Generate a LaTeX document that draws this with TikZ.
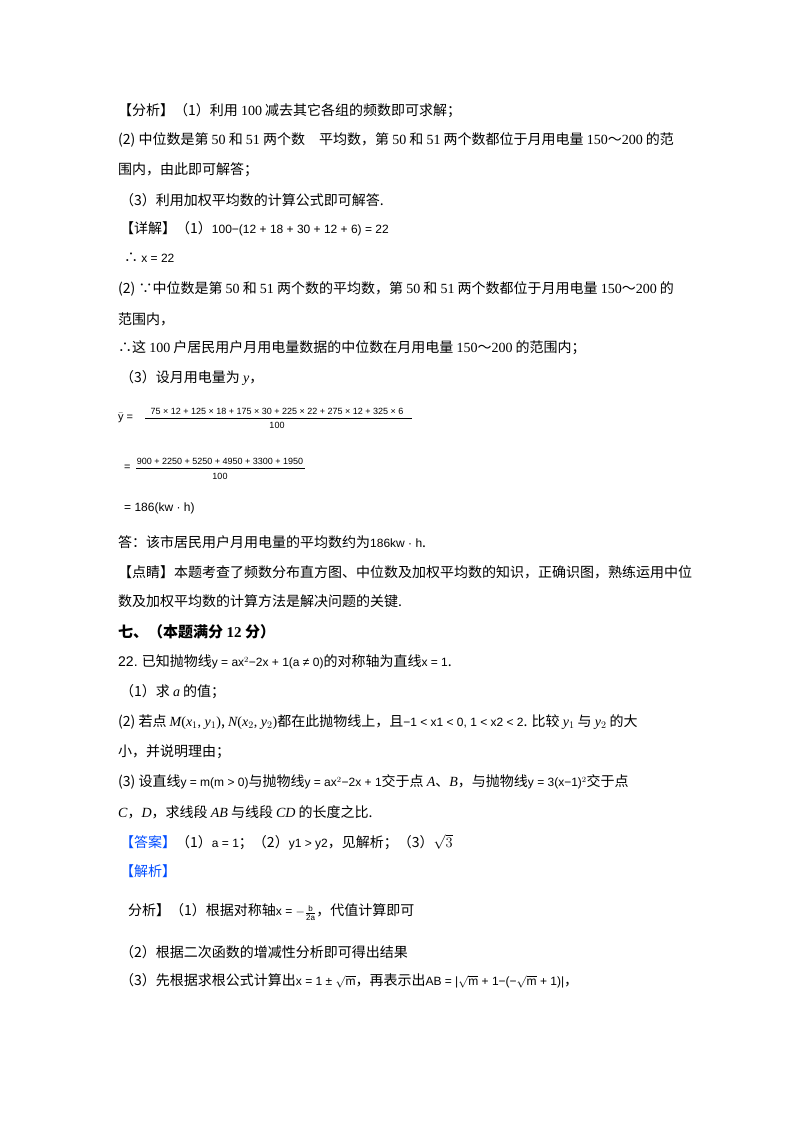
\documentclass[tikz,border=0pt]{standalone}
\usepackage{fontspec}
\usepackage{amsmath,amssymb}
\setmainfont{Liberation Serif}
\newfontfamily\cjk{Noto Sans CJK SC}
\newfontfamily\sm{Liberation Sans}
\newcommand{\mm}[1]{{\sm\fontsize{12}{14}\selectfont #1}}
\newcommand{\tl}{{\cjk ～}}
\begin{document}
\begin{tikzpicture}[x=1pt,y=-1pt,
  t/.style={anchor=west,inner sep=0pt,font=\fontsize{14}{16}\selectfont\cjk},
  s/.style={anchor=west,inner sep=0pt,font=\fontsize{9}{11}\selectfont\sm},
  blue/.style={text=blue!70!cyan}]
\useasboundingbox (0,0) rectangle (800,1132);
\node[t] (l1) at (118,111) {【分析】（1）利用 {\rmfamily 100} 减去其它各组的频数即可求解；};
\node[t] (l2) at (118,140) {(2) 中位数是第 {\rmfamily 50} 和 {\rmfamily 51} 两个数\quad 平均数，第 {\rmfamily 50} 和 {\rmfamily 51} 两个数都位于月用电量 {\rmfamily 150}\tl{\rmfamily 200} 的范};
\node[t] (l3) at (118,170) {围内，由此即可解答；};
\node[t] (l4) at (120,200) {（3）利用加权平均数的计算公式即可解答.};
\node[t] (l5) at (120,229) {【详解】（1）\mm{100−(12 + 18 + 30 + 12 + 6) = 22}};
\node[t] (l6) at (124,258) {∴ \mm{x = 22}};
\node[t] (l7) at (118,289) {(2) ∵中位数是第 {\rmfamily 50} 和 {\rmfamily 51} 两个数的平均数，第 {\rmfamily 50} 和 {\rmfamily 51} 两个数都位于月用电量 {\rmfamily 150}\tl{\rmfamily 200} 的};
\node[t] (l8) at (118,319) {范围内，};
\node[t] (l9) at (118,348) {∴这 {\rmfamily 100} 户居民用户月用电量数据的中位数在月用电量 {\rmfamily 150}\tl{\rmfamily 200} 的范围内；};
\node[t] (l10) at (120,378) {（3）设月用电量为 {\rmfamily\itshape y}，};
\node[s,font=\fontsize{11}{13}\selectfont\sm] (f1) at (118,418) {$\bar{\text{y}}$ =};
\node[s,anchor=center] (f1n) at (277,411) {75 × 12 + 125 × 18 + 175 × 30 + 225 × 22 + 275 × 12 + 325 × 6};
\draw (145,418) -- (412,418);
\node[s,anchor=center] (f1d) at (277,425) {100};
\node[s,font=\fontsize{11}{13}\selectfont\sm] (f2) at (124,468) {=};
\node[s,anchor=center] (f2n) at (220,461) {900 + 2250 + 5250 + 4950 + 3300 + 1950};
\draw (136,468) -- (305,468);
\node[s,anchor=center] (f2d) at (220,476) {100};
\node[t] (l11) at (124,508) {\mm{= 186(kw · h)}};
\node[t] (l12) at (118,542) {答：该市居民用户月用电量的平均数约为\mm{186kw · h}.};
\node[t] (l13) at (118,572) {【点睛】本题考查了频数分布直方图、中位数及加权平均数的知识，正确识图，熟练运用中位};
\node[t] (l14) at (118,601) {数及加权平均数的计算方法是解决问题的关键.};
\node[t,font=\fontsize{15}{17}\selectfont\cjk\bfseries] (l15) at (118,632) {七、（本题满分 {\rmfamily\bfseries 12} 分）};
\node[t] (l16) at (118,662) {{\sm 22.} 已知抛物线\mm{y = ax$^2$−2x + 1(a ≠ 0)}的对称轴为直线\mm{x = 1}.};
\node[t] (l17) at (120,692) {（1）求 {\rmfamily\itshape a} 的值；};
\node[t] (l18) at (118,722) {(2) 若点 {\rmfamily\itshape M}{\rmfamily(\textit{x}$_1$, \textit{y}$_1$)}, {\rmfamily\itshape N}{\rmfamily(\textit{x}$_2$, \textit{y}$_2$)}都在此抛物线上，且\mm{−1 < x1 < 0, 1 < x2 < 2}. 比较 {\rmfamily\itshape y}$_1$ 与 {\rmfamily\itshape y}$_2$ 的大};
\node[t] (l19) at (118,752) {小，并说明理由；};
\node[t] (l20) at (118,782) {(3) 设直线\mm{y = m(m > 0)}与抛物线\mm{y = ax$^2$−2x + 1}交于点 {\rmfamily\itshape A}、{\rmfamily\itshape B}，与抛物线\mm{y = 3(x−1)$^2$}交于点};
\node[t] (l21) at (118,812) {{\rmfamily\itshape C}，{\rmfamily\itshape D}，求线段 {\rmfamily\itshape AB} 与线段 {\rmfamily\itshape CD} 的长度之比.};
\node[t,blue] (l22) at (120,842) {【答案】{\color{black}（1）\mm{a = 1}；（2）\mm{y1 > y2}，见解析；（3）$\sqrt{3}$}};
\node[t,blue] (l23) at (120,871) {【解析】};
\node[t] (l24) at (128,912) {分析】（1）根据对称轴\mm{x = $-\frac{\text{b}}{\text{2a}}$}，代值计算即可};
\node[t] (l25) at (120,952) {（2）根据二次函数的增减性分析即可得出结果};
\node[t] (l26) at (120,981) {（3）先根据求根公式计算出\mm{x = 1 ± $\sqrt{\text{m}}$}，再表示出\mm{AB = |$\sqrt{\text{m}}$ + 1−(−$\sqrt{\text{m}}$ + 1)|}，};
\end{tikzpicture}
\end{document}
